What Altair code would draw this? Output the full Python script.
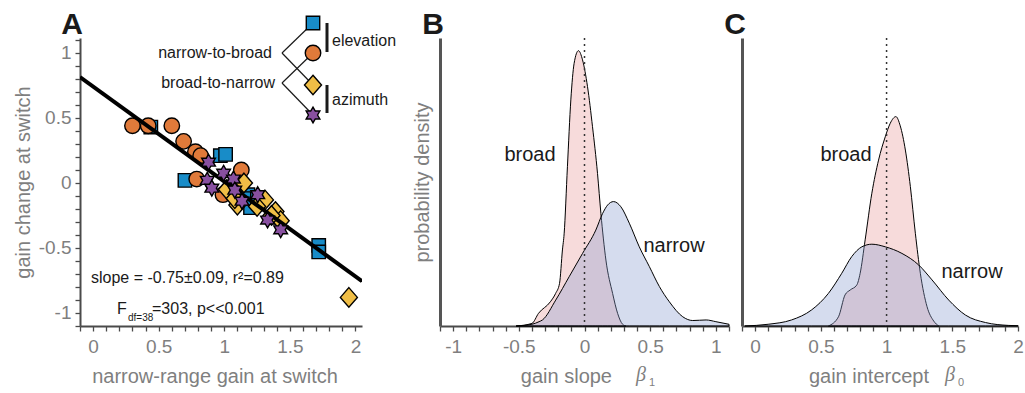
import altair as alt
import pandas as pd
import numpy as np

FONT = "Liberation Sans"
INK = "#1a1a1a"
GRAY = "#7f7f7f"
AXC = "#4a4a4a"

# ---------------- panel A data ----------------
sq_x = [0.44, 0.97, 1.01, 0.70, 1.18, 1.20, 1.72, 1.72, 1.07, 1.15]
sq_y = [0.43, 0.21, 0.22, 0.02, -0.09, -0.19, -0.48, -0.53, -0.04, -0.12]
ci_x = [0.30, 0.42, 0.60, 0.69, 0.78, 0.82, 0.79, 0.99, 1.13, 1.05]
ci_y = [0.44, 0.44, 0.44, 0.32, 0.24, 0.21, 0.03, -0.09, 0.10, -0.05]
di_x = [1.02, 1.10, 1.15, 1.31, 1.39, 1.43, 1.95, 1.08, 1.25, 1.36]
di_y = [-0.05, -0.17, 0.00, -0.13, -0.22, -0.29, -0.88, -0.12, -0.18, -0.25]
st_x = [0.88, 0.87, 0.905, 0.995, 1.07, 1.135, 1.255, 1.33, 1.43, 1.08]
st_y = [0.16, 0.02, -0.04, 0.075, 0.03, -0.14, -0.09, -0.285, -0.36, -0.055]
fit_x = [-0.1, 2.05]
fit_y = [0.815, -0.755]

# ---------------- panel B data (gain slope) ----------------
bb_x = [-0.52, -0.40, -0.35, -0.26, -0.22, -0.19, -0.168, -0.155, -0.13, -0.104, -0.079, -0.046,
        -0.015, 0.023, 0.061, 0.099, 0.125, 0.163, 0.214, 0.252, 0.29, 0.316]
bb_y = [0.0, 0.009, 0.044, 0.084, 0.113, 0.148, 0.264, 0.32, 0.553, 0.785, 0.912, 0.956,
        0.924, 0.831, 0.692, 0.53, 0.39, 0.229, 0.113, 0.044, 0.006, 0.0]
bn_x = [-0.52, -0.40, -0.346, -0.32, -0.219, -0.117, -0.015, 0.086, 0.137, 0.176, 0.221, 0.277,
        0.341, 0.417, 0.494, 0.57, 0.646, 0.748, 0.824, 0.926, 1.0, 1.10]
bn_y = [0.0, 0.006, 0.015, 0.021, 0.09, 0.171, 0.252, 0.333, 0.39, 0.42, 0.432, 0.414,
        0.357, 0.275, 0.206, 0.137, 0.084, 0.032, 0.019, 0.021, 0.015, 0.006]

# ---------------- panel C data (gain intercept) ----------------
cb_x = [0.557, 0.634, 0.684, 0.723, 0.773, 0.799, 0.837, 0.888, 0.939, 0.99, 1.028, 1.071,
        1.104, 1.143, 1.181, 1.219, 1.257, 1.308, 1.359, 1.397]
cb_y = [0.0, 0.032, 0.108, 0.125, 0.142, 0.183, 0.299, 0.461, 0.576, 0.657, 0.704, 0.727,
        0.695, 0.611, 0.484, 0.322, 0.183, 0.067, 0.017, 0.0]
cn_x = [-0.079, 0.099, 0.277, 0.43, 0.557, 0.659, 0.735, 0.812, 0.888, 0.99, 1.117, 1.244,
        1.346, 1.473, 1.6, 1.753, 1.93, 2.0]
cn_y = [0.0, 0.006, 0.021, 0.056, 0.113, 0.183, 0.241, 0.275, 0.284, 0.275, 0.252, 0.212,
        0.16, 0.09, 0.038, 0.012, 0.002, 0.001]

# ---------------- layout ----------------
H = 288
WA, WB, WC = 282, 289, 276

STAR6 = ("M0,-1L0.289,-0.5L0.866,-0.5L0.577,0L0.866,0.5L0.289,0.5L0,1L-0.289,0.5"
         "L-0.866,0.5L-0.577,0L-0.866,-0.5L-0.289,-0.5Z")
DIAM = "M0,-1.15L1,0L0,1.15L-1,0Z"

C_SQ, C_CI, C_DI, C_ST = "#188cc8", "#e07a3a", "#f0be46", "#8850a0"


def ticks(lo, hi):
    return [float(v) for v in np.round(np.arange(lo, hi + 1e-9, 0.1), 2)]


LABEL_EXPR = "abs(datum.value*2 - round(datum.value*2)) < 0.001 ? '' + round(datum.value*2)/2 : ''"


def qaxis(values, title, lpad=6):
    kw = dict(values=values, labelExpr=LABEL_EXPR, grid=False,
              tickSize=5, tickWidth=1.3, tickColor=AXC, domainColor=AXC, domainWidth=2,
              labelColor=GRAY, labelFontSize=19, labelFont=FONT, labelPadding=lpad,
              labelOverlap=False, labelFlush=False)
    if title:
        kw.update(title=title, titleColor=GRAY, titleFont=FONT, titleFontSize=20,
                  titleFontWeight="normal", titlePadding=5)
    else:
        kw.update(title=None)
    return alt.Axis(**kw)


def pix(f):
    return alt.X(f, type="quantitative", scale=None)


def piy(f):
    return alt.Y(f, type="quantitative", scale=None)


def text_layer(px, py, txt, size=16, align="left", baseline="middle", color=INK,
               font=FONT, style="normal"):
    return alt.Chart(pd.DataFrame({"px": px, "py": py, "t": txt})).mark_text(
        align=align, baseline=baseline, font=font, fontSize=size, color=color,
        fontStyle=style).encode(x=pix("px"), y=piy("py"), text="t:N")


def letter(ch, dx):
    return alt.Chart(pd.DataFrame({"a": [0]})).mark_text(
        text=ch, font=FONT, fontSize=30, fontWeight="bold", color=INK,
        align="center", baseline="alphabetic").encode(x=alt.value(dx), y=alt.value(-4))


# ---- panel A
sxA = alt.Scale(domain=[-0.1, 2.05], nice=False, zero=False)
syA = alt.Scale(domain=[-1.1, 1.115], nice=False, zero=False)
axA_x = qaxis(ticks(-0.1, 2.0), None)
axA_y = qaxis(ticks(-1.1, 1.1), "gain change at switch", lpad=4)


def XA(f):
    return alt.X(f, type="quantitative", scale=sxA, axis=axA_x)


def YA(f):
    return alt.Y(f, type="quantitative", scale=syA, axis=axA_y)


def pts(xs, ys, shape, color, size):
    return alt.Chart(pd.DataFrame({"x": xs, "y": ys})).mark_point(
        shape=shape, size=size, fill=color, stroke="black", strokeWidth=1.4,
        opacity=1, fillOpacity=1).encode(x=XA("x"), y=YA("y"))


fit = alt.Chart(pd.DataFrame({"x": fit_x, "y": fit_y})).mark_line(
    color="black", strokeWidth=4, clip=True).encode(x=XA("x"), y=YA("y"))

# legend (pixel positions relative to plot origin)
leg_lines = pd.DataFrame({
    "x1": [202, 202, 202, 202],
    "y1": [15, 15, 45, 45],
    "x2": [233, 233, 233, 233],
    "y2": [-15, 47, 15, 77],
})
leg_bars = pd.DataFrame({"x1": [247, 247], "y1": [-15, 47], "x2": [247, 247], "y2": [14, 75]})
leg_sym = [("square", C_SQ, 180, 233, -15), ("circle", C_CI, 240, 233, 15),
           (DIAM, C_DI, 290, 233, 47), (STAR6, C_ST, 250, 233, 77)]

lines_l = alt.Chart(leg_lines).mark_rule(color=INK, strokeWidth=1.2).encode(
    x=pix("x1"), y=piy("y1"), x2="x2:Q", y2="y2:Q")
bars_l = alt.Chart(leg_bars).mark_rule(color=INK, strokeWidth=3).encode(
    x=pix("x1"), y=piy("y1"), x2="x2:Q", y2="y2:Q")
sym_layers = [
    alt.Chart(pd.DataFrame({"px": [px], "py": [py]})).mark_point(
        shape=sh, size=sz, fill=c, stroke="black", strokeWidth=1.4, opacity=1, fillOpacity=1
    ).encode(x=pix("px"), y=piy("py"))
    for sh, c, sz, px, py in leg_sym
]
leg_txt_r = text_layer([192, 195], [15, 45], ["narrow-to-broad", "broad-to-narrow"], align="right")
leg_txt_l = text_layer([252, 252], [3, 62], ["elevation", "azimuth"])
stats = text_layer([11, 37, 72], [240, 271, 271],
                   ["slope = -0.75\u00b10.09, r\u00b2=0.89", "F", "=303, p<<0.001"])
stats_sub = text_layer([48], [280], ["df=38"], size=10)
titleA = text_layer([135], [H + 57], ["narrow-range gain at switch"], size=20, align="center",
                    baseline="alphabetic", color=GRAY)

panelA = alt.layer(
    pts(sq_x, sq_y, "square", C_SQ, 180),
    pts(ci_x, ci_y, "circle", C_CI, 240),
    pts(di_x, di_y, DIAM, C_DI, 290),
    fit,
    pts(st_x, st_y, STAR6, C_ST, 250),
    lines_l, bars_l, *sym_layers, leg_txt_r, leg_txt_l, stats, stats_sub, titleA,
    letter("A", -8),
).properties(width=WA, height=H)


# ---- density panels
def density_panel(xb, yb, xn, yn, dom, xvals, xtitle, tx, sub, ytitle, ref, lab_b, lab_n,
                  width, let, ldx):
    sx = alt.Scale(domain=dom, nice=False, zero=False)
    sy = alt.Scale(domain=[0, 1], nice=False, zero=True)
    ax_x = qaxis(xvals, None)
    if ytitle:
        ax_y = alt.Axis(ticks=False, labels=False, grid=False, domainColor="#555555", domainWidth=3,
                        title=ytitle, titleColor=GRAY, titleFont=FONT, titleFontSize=20,
                        titleFontWeight="normal", titlePadding=8)
    else:
        ax_y = alt.Axis(ticks=False, labels=False, grid=False, domainColor="#555555", domainWidth=3,
                        title=None)
    X = lambda f: alt.X(f, type="quantitative", scale=sx, axis=ax_x)
    Y = lambda f: alt.Y(f, type="quantitative", scale=sy, axis=ax_y)
    broad = alt.Chart(pd.DataFrame({"x": xb, "y": yb})).mark_area(
        fill="#e89c9c", fillOpacity=0.36, stroke="black", strokeWidth=1, interpolate="monotone"
    ).encode(x=X("x"), y=Y("y"))
    narrow = alt.Chart(pd.DataFrame({"x": xn, "y": yn})).mark_area(
        fill="#8a9fd0", fillOpacity=0.36, stroke="black", strokeWidth=1, interpolate="monotone"
    ).encode(x=X("x"), y=Y("y"))
    refl = alt.Chart(pd.DataFrame({"x": [ref]})).mark_rule(
        color="#333333", strokeWidth=1.5, strokeDash=[2, 4]).encode(
        x=X("x"), y=alt.value(0), y2=alt.value(H))
    labs = text_layer([lab_b[0], lab_n[0]], [lab_b[1], lab_n[1]], ["broad", "narrow"],
                      size=20, align="center")
    t_main = text_layer([tx[0]], [H + 57], [xtitle], size=20, align="right",
                        baseline="alphabetic", color=GRAY)
    t_beta = text_layer([tx[1]], [H + 55], ["\u03b2"], size=20, align="left",
                        baseline="alphabetic", color=GRAY, font="Liberation Serif", style="italic")
    t_sub = text_layer([tx[2]], [H + 60], [sub], size=11, align="left",
                       baseline="alphabetic", color=GRAY)
    return alt.layer(broad, narrow, refl, labs, t_main, t_beta, t_sub,
                     letter(let, ldx)).properties(width=width, height=H)


panelB = density_panel(bb_x, bb_y, bn_x, bn_y, [-1.1, 1.1], ticks(-1.1, 1.1),
                       "gain slope", (172, 196, 209), "1", "probability density", 0.0,
                       (90, 117), (234, 208), WB, "B", -7)
panelC = density_panel(cb_x, cb_y, cn_x, cn_y, [-0.1, 2.0], ticks(-0.1, 2.0),
                       "gain intercept", (187, 203, 216), "0", None, 1.0,
                       (104, 117), (230, 234), WC, "C", -7)

chart = alt.hconcat(panelA, alt.hconcat(panelB, panelC, spacing=-7), spacing=15).properties(
    padding={"left": 13, "top": 10, "right": 0, "bottom": 0},
    background="white",
).configure_view(stroke=None).configure_axis(grid=False)

chart.save("out.html", embed_options={"renderer": "svg", "actions": False})
